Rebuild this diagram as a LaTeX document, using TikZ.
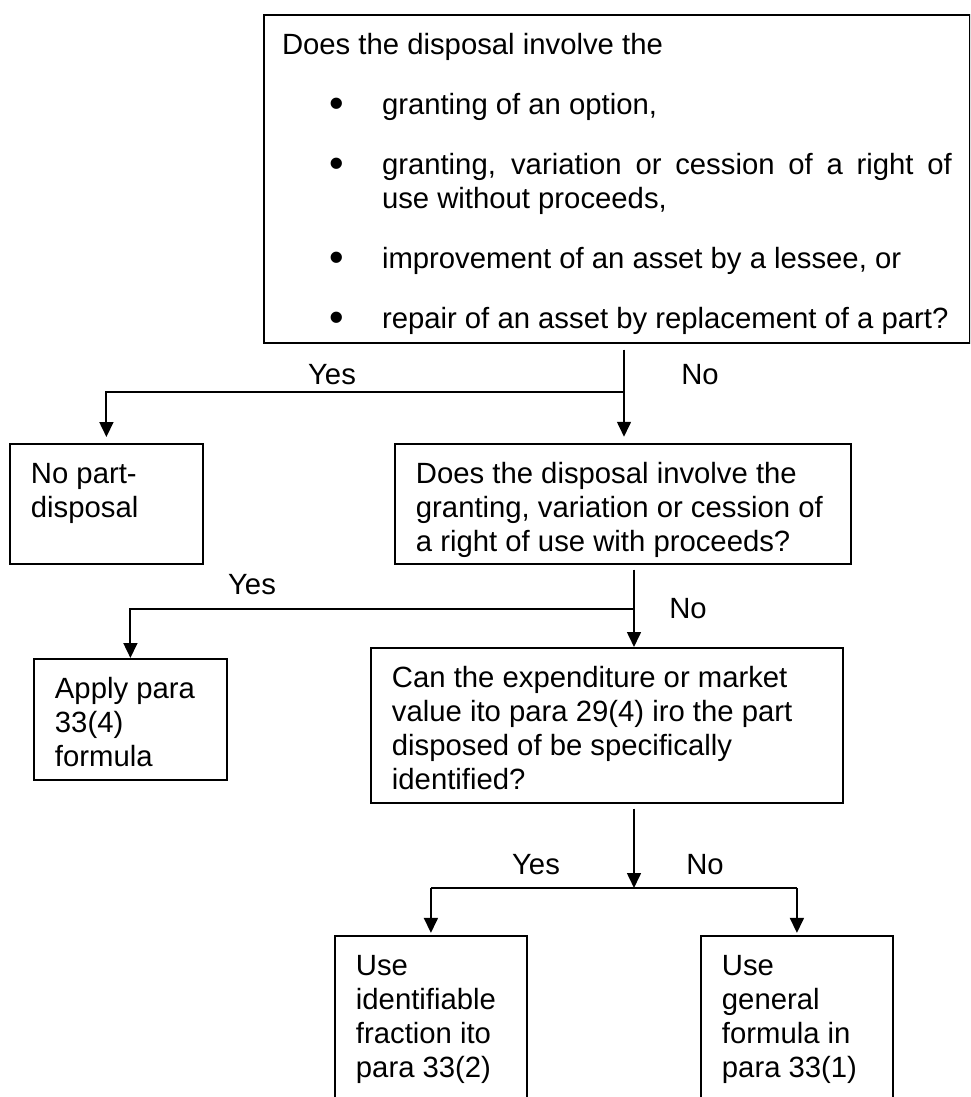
\documentclass[tikz,border=0pt]{standalone}
\usepackage{fontspec}
\setmainfont{Liberation Sans}
\usetikzlibrary{arrows.meta}
\newcommand{\boxtext}[3]{\begin{minipage}[t][#2][t]{#1}\strut #3\end{minipage}}
\newcommand{\bigbul}{\raisebox{-0.2ex}{\fontsize{17pt}{14pt}\selectfont\textbullet}}

\begin{document}
\begin{tikzpicture}[x=0.0144cm, y=-0.0144cm, line width=0.8pt,
    font=\fontsize{12pt}{13.9pt}\selectfont,
    qbox/.style={draw, inner xsep=0.302cm, inner ysep=0.23cm, anchor=north west},
    arr/.style={-{Triangle[length=0.216cm,width=0.2cm]}}]
    \useasboundingbox (0,0) rectangle (970,1097);
    \clip (0,0) rectangle (970,1097);

    \node[qbox, inner xsep=0.26cm] (q1) at (263,14) {\boxtext{9.648cm}{4.262cm}{Does the disposal involve the
      \begin{list}{\bigbul}{\setlength{\leftmargin}{1.44cm}\setlength{\labelsep}{0.547cm}%
        \setlength{\labelwidth}{0.89cm}\setlength{\itemsep}{0.374cm}\setlength{\parsep}{0pt}%
        \setlength{\topsep}{0.374cm}\setlength{\partopsep}{0pt}}
      \item granting of an option,
      \item granting, variation or cession of a right of\linebreak use without proceeds,
      \item improvement of an asset by a lessee, or
      \item repair of an asset by replacement of a part?
      \end{list}}};
    \node[qbox] (r1) at (9,443) {\boxtext{2.174cm}{1.267cm}{No part-\\disposal}};
    \node[qbox] (q2) at (394,443) {\boxtext{5.962cm}{1.267cm}{Does the disposal involve the\\granting, variation or cession of\\a right of use with proceeds?}};
    \node[qbox] (r2) at (33,658) {\boxtext{2.174cm}{1.282cm}{Apply para\\33(4)\\formula}};
    \node[qbox] (q3) at (370,647) {\boxtext{6.192cm}{1.771cm}{Can the expenditure or market\\value ito para 29(4) iro the part\\disposed of be specifically\\identified?}};
    \node[qbox] (r3) at (334,935) {\boxtext{2.16cm}{2.42cm}{Use\\identifiable\\fraction ito\\para 33(2)}};
    \node[qbox] (r4) at (700,935) {\boxtext{2.16cm}{2.42cm}{Use\\general\\formula in\\para 33(1)}};

    \coordinate (j1) at (624,392);
    \coordinate (j2) at (634,609);
    \coordinate (j3) at (634,888);

    \node (yes1) at (332,375) {Yes};
    \node (no1) at (700,375) {No};
    \node (yes2) at (252,585) {Yes};
    \node (no2) at (688,609) {No};
    \node (yes3) at (536,865) {Yes};
    \node (no3) at (705,865) {No};

    \draw[arr, shorten <=0.086cm, shorten >=0.09cm] (q1.south -| j1) -- (q2.north -| j1);
    \draw[arr, shorten >=0.086cm] (j1) -| (r1.north);
    \draw[arr, shorten <=0.07cm] (q2.south -| j2) -- (q3.north -| j2);
    \draw[arr] (j2) -| (r2.north);
    \draw[arr, shorten <=0.07cm] (q3.south -| j3) -- (j3);
    \draw (r3.north |- j3) -- (r4.north |- j3);
    \draw[arr, shorten >=0.03cm] (r3.north |- j3) -- (r3.north);
    \draw[arr, shorten >=0.03cm] (r4.north |- j3) -- (r4.north);
\end{tikzpicture}
\end{document}
